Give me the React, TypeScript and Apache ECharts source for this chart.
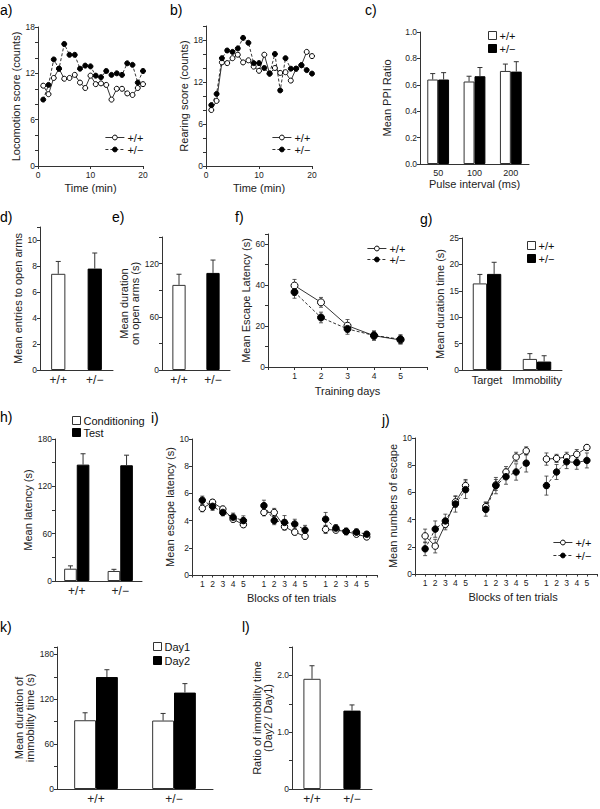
import React, { useEffect, useRef } from "react";
import * as echarts from "echarts";

const FONT = '"Liberation Sans", Arial, Helvetica, sans-serif';

// ---- data ----
const timeMin = [1, 2, 3, 4, 5, 6, 7, 8, 9, 10, 11, 12, 13, 14, 15, 16, 17, 18, 19, 20];
const locoWT = [10.4, 9.3, 11.4, 12.6, 11.3, 11.4, 11.8, 10.8, 10.1, 11.7, 10.6, 10.7, 10.5, 8.6, 10.0, 10.0, 9.4, 9.2, 10.1, 10.6];
const locoHet = [8.6, 10.5, 13.8, 12.6, 15.8, 14.4, 14.4, 12.6, 13.0, 12.9, 11.7, 11.5, 12.3, 11.8, 12.0, 11.8, 13.3, 13.1, 10.8, 12.3];
const rearWT = [8.0, 9.3, 14.8, 14.7, 15.4, 15.9, 14.8, 15.1, 14.2, 13.6, 15.9, 13.2, 14.0, 13.3, 13.4, 12.2, 13.9, 14.4, 16.3, 15.7];
const rearHet = [8.7, 10.3, 15.4, 16.5, 16.3, 16.8, 18.3, 17.6, 14.7, 14.7, 14.0, 13.2, 16.0, 10.8, 15.4, 13.9, 13.9, 14.4, 13.7, 13.2];

const ppiIntervals = ["50", "100", "200"];
const ppiWT = [0.64, 0.625, 0.705];
const ppiWTErr = [0.045, 0.04, 0.052];
const ppiHet = [0.64, 0.665, 0.7];
const ppiHetErr = [0.052, 0.066, 0.075];

const genotypes = ["+/+", "+/\u2212"];
const entries = [7.4, 7.8];
const entriesErr = [0.95, 1.2];
const openDuration = [96, 109.5];
const openDurationErr = [12, 14.5];

const trainingDays = [1, 2, 3, 4, 5];
const escWT = [39.8, 31.6, 20.2, 15.3, 13.2];
const escWTErr = [3, 2.4, 3, 2.2, 2];
const escHet = [36.6, 24.2, 18.6, 15.4, 13.6];
const escHetErr = [3, 2.6, 2.6, 2.2, 2.2];

const probeCats = ["Target", "Immobility"];
const probeWT = [16.4, 2.1];
const probeWTErr = [1.7, 1.0];
const probeHet = [18.2, 1.6];
const probeHetErr = [2.2, 1.1];

const condLatency = [15.6, 12.7];
const condLatencyErr = [3.6, 2.1];
const testLatency = [147.5, 146.7];
const testLatencyErr = [13.8, 12.8];

const blockLabels = ["", "1", "2", "3", "4", "5", "", "1", "2", "3", "4", "5", "", "1", "2", "3", "4", "5", ""];
const latWT = [null, 4.9, 5.35, 4.85, 4.1, 3.7, null, 4.6, 4.6, 3.55, 3.15, 2.85, null, 3.35, 3.3, 3.2, 3.0, 2.8, null];
const latWTErr = [null, 0.25, 0.2, 0.2, 0.2, 0.15, null, 0.25, 0.3, 0.25, 0.2, 0.2, null, 0.3, 0.15, 0.15, 0.15, 0.15, null];
const latHet = [null, 5.5, 5.05, 4.6, 4.25, 4.0, null, 5.1, 4.0, 3.87, 3.75, 3.3, null, 4.1, 3.45, 3.2, 3.15, 3.0, null];
const latHetErr = [null, 0.3, 0.3, 0.25, 0.3, 0.35, null, 0.4, 0.3, 0.5, 0.35, 0.35, null, 0.5, 0.25, 0.25, 0.25, 0.2, null];

const nEscWT = [null, 2.8, 2.05, 3.65, 5.3, 6.5, null, 4.95, 6.55, 7.5, 8.6, 9.05, null, 8.45, 8.5, 8.6, 8.8, 9.3, null];
const nEscWTErr = [null, 0.5, 0.5, 0.4, 0.4, 0.45, null, 0.35, 0.4, 0.4, 0.35, 0.3, null, 0.45, 0.3, 0.35, 0.35, 0.2, null];
const nEscHet = [null, 1.85, 3.3, 3.9, 5.15, 6.2, null, 4.75, 6.5, 7.15, 7.5, 8.15, null, 6.5, 7.5, 8.25, 8.2, 8.35, null];
const nEscHetErr = [null, 0.5, 0.6, 0.5, 0.6, 0.65, null, 0.5, 0.6, 0.55, 0.6, 0.65, null, 0.7, 0.55, 0.5, 0.5, 0.55, null];

const immDay1 = [92, 91.6];
const immDay1Err = [10, 9.5];
const immDay2 = [149.8, 129];
const immDay2Err = [9.8, 12];
const immRatio = [1.94, 1.38];
const immRatioErr = [0.23, 0.1];

// ---- styling helpers ----
const INK = "#222";
const axisLineStyle = { show: true, lineStyle: { color: "#333", width: 1 } };
const tickStyle = { show: true, length: 3, lineStyle: { color: "#333", width: 1 } };
const nameStyle = { fontSize: 11, color: "#222", fontFamily: FONT, fontWeight: "normal" };

function yAxis(gi: number, max: number, interval: number, fmt: any, name: string, nameGap: number) {
  return {
    type: "value", gridIndex: gi, min: 0, max, interval,
    axisLine: axisLineStyle, axisTick: tickStyle, splitLine: { show: false },
    axisLabel: { fontSize: 8.5, color: INK, margin: 3, fontFamily: FONT, fontWeight: "normal", formatter: fmt, showMaxLabel: true },
    name, nameLocation: "middle", nameGap, nameTextStyle: nameStyle,
  };
}

function catXAxis(gi: number, data: string[], fontSize: number, name?: string, nameGap?: number) {
  return {
    type: "category", gridIndex: gi, data,
    axisLine: axisLineStyle, axisTick: { show: false }, splitLine: { show: false },
    axisLabel: { fontSize, color: INK, margin: 4, interval: 0, fontFamily: FONT, fontWeight: "normal" },
    name: name || "", nameLocation: "middle", nameGap: nameGap || 0, nameTextStyle: nameStyle,
  };
}

function barErrRender(side: number, gap: number) {
  return (params: any, api: any) => {
    const c = api.value(0), v = api.value(1), e = api.value(2);
    const base = api.coord([c, v]);
    const top = api.coord([c, v + e]);
    const band = api.size([1, 0])[0];
    const n = side === 0 ? 1 : 2;
    const bw = (band * (1 - gap)) / n;
    const x = base[0] + (side * bw) / 2;
    const st = { stroke: "#333", lineWidth: 1 };
    return {
      type: "group",
      children: [
        { type: "line", shape: { x1: x, y1: base[1], x2: x, y2: top[1] }, style: st },
        { type: "line", shape: { x1: x - 2.5, y1: top[1], x2: x + 2.5, y2: top[1] }, style: st },
      ],
    };
  };
}

function lineErrRender(params: any, api: any) {
  const x = api.value(0), v = api.value(1), e = api.value(2);
  const lo = api.coord([x, v - e]);
  const hi = api.coord([x, v + e]);
  const st = { stroke: "#333", lineWidth: 0.8 };
  return {
    type: "group",
    children: [
      { type: "line", shape: { x1: lo[0], y1: lo[1], x2: hi[0], y2: hi[1] }, style: st },
      { type: "line", shape: { x1: hi[0] - 2, y1: hi[1], x2: hi[0] + 2, y2: hi[1] }, style: st },
      { type: "line", shape: { x1: lo[0] - 2, y1: lo[1], x2: lo[0] + 2, y2: lo[1] }, style: st },
    ],
  };
}

function barSeries(name: string, gi: number, values: number[], fill: string, gap: string) {
  return {
    type: "bar", name, xAxisIndex: gi, yAxisIndex: gi, data: values,
    barGap: "0%", barCategoryGap: gap,
    itemStyle: { color: fill, borderColor: fill === "#fff" ? "#333" : "#000", borderWidth: 1 },
  };
}

function pairBarSeries(gi: number, values: number[], gap: string) {
  const fills = ["#fff", "#000"];
  return {
    type: "bar", name: "p" + gi, xAxisIndex: gi, yAxisIndex: gi,
    data: values.map((v, i) => ({ value: v, itemStyle: { color: fills[i], borderColor: i === 0 ? "#333" : "#000", borderWidth: 1 } })),
    barCategoryGap: gap,
  };
}

function barErr(gi: number, values: number[], errs: number[], side: number, gap: number) {
  return {
    type: "custom", xAxisIndex: gi, yAxisIndex: gi, silent: true, z: 4,
    renderItem: barErrRender(side, gap),
    data: values.map((v, i) => [i, v, errs[i]]),
  };
}

function lineSeries(name: string, gi: number, data: any[], open: boolean, size: number) {
  return {
    type: "line", name, xAxisIndex: gi, yAxisIndex: gi, data,
    symbol: "circle", symbolSize: size, z: 5, connectNulls: false,
    lineStyle: { color: "#000", width: 0.8, type: open ? "solid" : [3, 2] },
    itemStyle: { color: open ? "#fff" : "#000", borderColor: "#000", borderWidth: 1 },
  };
}

function lineErr(gi: number, xs: any[], values: any[], errs: any[]) {
  const data: any[] = [];
  values.forEach((v, i) => {
    if (v !== null && errs[i] !== null) data.push([xs[i], v, errs[i]]);
  });
  return { type: "custom", xAxisIndex: gi, yAxisIndex: gi, silent: true, z: 3, renderItem: lineErrRender, data };
}

function legend(left: number, top: number, names: string[], kind: "line" | "bar", fs: number, gap: number) {
  return {
    left, top, orient: "vertical", itemGap: gap, padding: 0, selectedMode: false,
    data: names,
    icon: kind === "bar" ? "rect" : undefined,
    itemWidth: kind === "bar" ? 8 : 19,
    itemHeight: kind === "bar" ? 8 : 6,
    lineStyle: { width: 0.8 },
    itemStyle: { borderWidth: 1 },
    formatter: (n: string) => n.split("|")[1],
    textStyle: { fontSize: fs, color: "#111", fontFamily: FONT, fontWeight: "normal", lineHeight: fs, padding: [0, 0, 0, -2] },
  };
}

const ev2 = (m: number) => (v: number) => (Math.abs(v / m - Math.round(v / m)) < 1e-6 ? String(v) : "");

export default function App() {
  const ref = useRef<HTMLDivElement>(null);
  useEffect(() => {
    if (!ref.current) return;
    const chart = echarts.init(ref.current, undefined, { renderer: "svg" });
    const tx = timeMin;
    const grids = [
      { left: 38, top: 27, width: 105, height: 139 },
      { left: 206, top: 26, width: 106, height: 140 },
      { left: 420, top: 32, width: 109, height: 132 },
      { left: 40, top: 227, width: 73, height: 143 },
      { left: 162, top: 237, width: 68, height: 133 },
      { left: 268, top: 234, width: 159, height: 133 },
      { left: 462, top: 238, width: 100, height: 132 },
      { left: 55, top: 439, width: 87, height: 142 },
      { left: 192, top: 439, width: 185, height: 136 },
      { left: 415, top: 438, width: 184, height: 136 },
      { left: 57, top: 647, width: 156, height: 142 },
      { left: 292, top: 647, width: 80, height: 142 },
    ];
    const valX = (gi: number, max: number, interval: number, fmt: any, name: string, nameGap: number) => ({
      type: "value", gridIndex: gi, min: 0, max, interval,
      axisLine: axisLineStyle, axisTick: tickStyle, splitLine: { show: false },
      axisLabel: { fontSize: 8.5, color: INK, margin: 4, fontFamily: FONT, fontWeight: "normal", formatter: fmt },
      name, nameLocation: "middle", nameGap, nameTextStyle: nameStyle,
    });
    const blockX = (gi: number) => ({
      type: "category", gridIndex: gi, data: blockLabels, boundaryGap: false,
      axisLine: axisLineStyle, axisTick: { show: true, length: 2.5, interval: 0, lineStyle: { color: "#333" } },
      splitLine: { show: false },
      axisLabel: { fontSize: 8.5, color: INK, margin: 4, interval: 0, fontFamily: FONT, fontWeight: "normal" },
      name: "Blocks of ten trials", nameLocation: "middle", nameGap: 17,
      nameTextStyle: { ...nameStyle, padding: [0, 0, 0, 14] },
    });
    const l1 = (v: number) => (v === 0 ? "0" : Math.abs(v - Math.round(v)) < 1e-6 ? v.toFixed(1) : "");
    const c1 = (v: number) => (Math.round(v * 10) % 2 === 0 ? v.toFixed(1) : "");
    const days = (v: number) => (v >= 1 && v <= 5 ? String(v) : "");

    const xAxes = [
      valX(0, 20, 10, ev2(10), "Time (min)", 16),
      valX(1, 20, 10, ev2(10), "Time (min)", 16),
      catXAxis(2, ppiIntervals, 9, "Pulse interval (ms)", 14),
      catXAxis(3, genotypes, 12),
      catXAxis(4, genotypes, 12),
      valX(5, 6, 1, days, "Training days", 18),
      catXAxis(6, probeCats, 11),
      catXAxis(7, genotypes, 12),
      blockX(8),
      blockX(9),
      catXAxis(10, genotypes, 12),
      catXAxis(11, genotypes, 12),
    ];
    const yAxes = [
      yAxis(0, 18, 2, ev2(6), "Locomotion score (counts)", 13),
      yAxis(1, 20, 2, ev2(6), "Rearing score (counts)", 13),
      yAxis(2, 1, 0.2, c1, "Mean PPI Ratio", 28),
      yAxis(3, 11, 2, ev2(2), "Mean entries to open arms", 13),
      yAxis(4, 150, 30, ev2(60), "Mean duration\non open arms (s)", 9),
      yAxis(5, 65, 10, ev2(20), "Mean Escape Latency (s)", 15),
      yAxis(6, 25, 5, ev2(5), "Mean duration time (s)", 17),
      yAxis(7, 180, 30, ev2(60), "Mean latency (s)", 17),
      yAxis(8, 10, 2, ev2(2), "Mean escape latency (s)", 12),
      yAxis(9, 10, 2, ev2(2), "Mean numbers of escape", 15),
      yAxis(10, 190, 30, ev2(60), "Mean duration of\nimmobility time (s)", 19),
      yAxis(11, 2.5, 0.5, l1, "Ratio of immobility time\n(Day2 / Day1)", 15),
    ];

    const pts = (xs: number[], ys: number[]) => xs.map((x, i) => [x, ys[i]]);
    const blockIdx = blockLabels.map((_, i) => i);

    const series: any[] = [
      lineSeries("a|+/+", 0, pts(tx, locoWT), true, 5),
      lineSeries("a|+/\u2212", 0, pts(tx, locoHet), false, 5),
      lineSeries("b|+/+", 1, pts(tx, rearWT), true, 5),
      lineSeries("b|+/\u2212", 1, pts(tx, rearHet), false, 5),
      barSeries("c|+/+", 2, ppiWT, "#fff", "40%"),
      barSeries("c|+/\u2212", 2, ppiHet, "#000", "40%"),
      barErr(2, ppiWT, ppiWTErr, -1, 0.4),
      barErr(2, ppiHet, ppiHetErr, 1, 0.4),
      pairBarSeries(3, entries, "61%"),
      barErr(3, entries, entriesErr, 0, 0.61),
      pairBarSeries(4, openDuration, "61%"),
      barErr(4, openDuration, openDurationErr, 0, 0.61),
      lineErr(5, trainingDays, escWT, escWTErr),
      lineErr(5, trainingDays, escHet, escHetErr),
      lineSeries("f|+/+", 5, pts(trainingDays, escWT), true, 7),
      lineSeries("f|+/\u2212", 5, pts(trainingDays, escHet), false, 7),
      barSeries("g|+/+", 6, probeWT, "#fff", "43%"),
      barSeries("g|+/\u2212", 6, probeHet, "#000", "43%"),
      barErr(6, probeWT, probeWTErr, -1, 0.43),
      barErr(6, probeHet, probeHetErr, 1, 0.43),
      barSeries("h|Conditioning", 7, condLatency, "#fff", "42%"),
      barSeries("h|Test", 7, testLatency, "#000", "42%"),
      barErr(7, condLatency, condLatencyErr, -1, 0.42),
      barErr(7, testLatency, testLatencyErr, 1, 0.42),
      lineErr(8, blockIdx, latWT, latWTErr),
      lineErr(8, blockIdx, latHet, latHetErr),
      lineSeries("i|+/+", 8, latWT, true, 6.5),
      lineSeries("i|+/\u2212", 8, latHet, false, 6.5),
      lineErr(9, blockIdx, nEscWT, nEscWTErr),
      lineErr(9, blockIdx, nEscHet, nEscHetErr),
      lineSeries("j|+/+", 9, nEscWT, true, 6.5),
      lineSeries("j|+/\u2212", 9, nEscHet, false, 6.5),
      barSeries("k|Day1", 10, immDay1, "#fff", "44%"),
      barSeries("k|Day2", 10, immDay2, "#000", "44%"),
      barErr(10, immDay1, immDay1Err, -1, 0.44),
      barErr(10, immDay2, immDay2Err, 1, 0.44),
      pairBarSeries(11, immRatio, "57%"),
      barErr(11, immRatio, immRatioErr, 0, 0.57),
    ];

    const legends = [
      legend(105, 132, ["a|+/+", "a|+/\u2212"], "line", 11, 1),
      legend(272, 132, ["b|+/+", "b|+/\u2212"], "line", 11, 1),
      legend(488, 30, ["c|+/+", "c|+/\u2212"], "bar", 11, 2),
      legend(367, 243, ["f|+/+", "f|+/\u2212"], "line", 11, 0),
      legend(527, 240, ["g|+/+", "g|+/\u2212"], "bar", 11, 2),
      legend(72, 415, ["h|Conditioning", "h|Test"], "bar", 11, 1),
      legend(553, 537, ["j|+/+", "j|+/\u2212"], "line", 11, 2),
      legend(153, 641, ["k|Day1", "k|Day2"], "bar", 11, 3),
    ];

    const labels: [string, number, number][] = [
      ["a)", 0, 3], ["b)", 170, 3], ["c)", 365, 3],
      ["d)", 0, 210], ["e)", 112, 210], ["f)", 235, 210], ["g)", 420, 212],
      ["h)", 0, 410], ["i)", 151, 411], ["j)", 382, 413],
      ["k)", 0, 620], ["l)", 242, 620],
    ];

    chart.setOption({
      animation: false,
      backgroundColor: "#fff",
      textStyle: { fontFamily: FONT, fontWeight: "normal" },
      grid: grids.map((g) => ({ ...g, containLabel: false })),
      xAxis: xAxes,
      yAxis: yAxes,
      legend: legends,
      series,
      graphic: labels.map(([t, x, y]) => ({
        type: "text", left: x, top: y,
        style: { text: t, fontSize: 14, fontFamily: FONT, fontWeight: "normal", fill: "#000" },
      })),
    });
    return () => chart.dispose();
  }, []);
  return <div ref={ref} style={{ position: "absolute", left: 0, top: 0, width: 600, height: 809 }} />;
}
